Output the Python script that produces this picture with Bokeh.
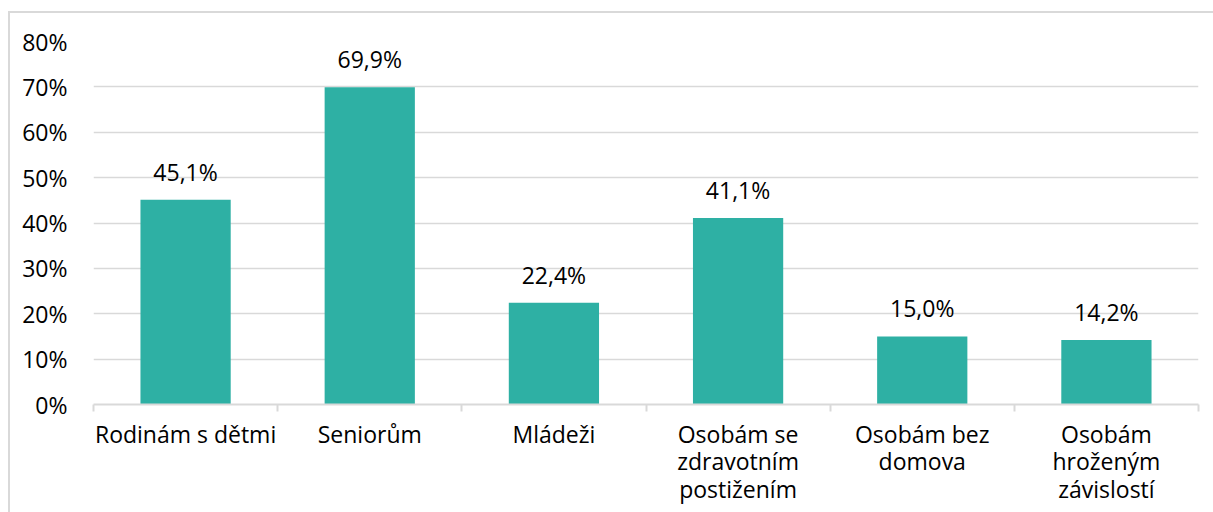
from bokeh.plotting import figure
from bokeh.models import (ColumnDataSource, FixedTicker, Range1d, LabelSet,
                          PrintfTickFormatter)
from bokeh.core.properties import value
from bokeh.embed import file_html
from bokeh.resources import INLINE

categories = ["Rodinám s dětmi", "Seniorům", "Mládeži",
              "Osobám se\nzdravotním\npostižením", "Osobám bez\ndomova",
              "Osobám\nhroženým\nzávislostí"]
values = [45.1, 69.9, 22.4, 41.1, 15.0, 14.2]
y_ticks = [0, 10, 20, 30, 40, 50, 60, 70, 80]

FONT = "Open Sans"
FS = "23px"
BAR = "#2EB0A4"
GRID = "#d9d9d9"

n = len(categories)
centers = [i + 0.5 for i in range(n)]
labels = [f"{v:.1f}".replace(".", ",") + "%" for v in values]

src = ColumnDataSource(dict(x=centers, top=values, lab=labels))

p = figure(width=1205, height=501, output_backend="svg", toolbar_location=None,
           x_range=Range1d(0, n), y_range=Range1d(0, 80),
           min_border_left=83, min_border_right=17, min_border_top=28,
           min_border_bottom=110)
p.outline_line_color = None
p.background_fill_color = "white"
p.border_fill_color = "white"
p.styles = {"border-left": f"2px solid {GRID}", "border-top": f"2px solid {GRID}",
            "margin-left": "8px", "margin-top": "11px"}

p.vbar(x="x", top="top", width=0.49, source=src, fill_color=BAR, line_color=None)

lbl = LabelSet(x="x", y="top", text="lab", source=src, text_align="center",
               text_baseline="alphabetic", y_offset=19, text_font=value(FONT),
               text_font_size=value(FS), text_color="#000000")
p.add_layout(lbl)

# y axis
p.yaxis.ticker = FixedTicker(ticks=y_ticks)
p.yaxis.formatter = PrintfTickFormatter(format="%d%%")
p.yaxis.axis_line_color = None
p.yaxis.major_tick_line_color = None
p.yaxis.minor_tick_line_color = None
p.yaxis.major_tick_out = 0
p.yaxis.major_tick_in = 0
p.yaxis.minor_tick_out = 0
p.yaxis.major_label_standoff = 26
p.yaxis.major_label_text_font = FONT
p.yaxis.major_label_text_font_size = FS
p.yaxis.major_label_text_color = "#000000"

# x axis
p.xaxis.ticker = FixedTicker(ticks=centers, minor_ticks=list(range(n + 1)))
p.xaxis.major_label_overrides = {c: lab for c, lab in zip(centers, categories)}
p.xaxis.axis_line_color = GRID
p.xaxis.axis_line_width = 2
p.xaxis.major_tick_line_color = None
p.xaxis.major_tick_out = 0
p.xaxis.major_tick_in = 0
p.xaxis.minor_tick_line_color = GRID
p.xaxis.minor_tick_line_width = 2
p.xaxis.minor_tick_in = 0
p.xaxis.minor_tick_out = 7
p.xaxis.major_label_standoff = 6
p.xaxis.major_label_text_font = FONT
p.xaxis.major_label_text_font_size = FS
p.xaxis.major_label_text_color = "#000000"
p.xaxis.major_label_text_line_height = 0.87

p.xgrid.grid_line_color = None
p.ygrid.grid_line_color = GRID
p.ygrid.grid_line_width = 1.5

open("out.html", "w").write(file_html(p, INLINE))
